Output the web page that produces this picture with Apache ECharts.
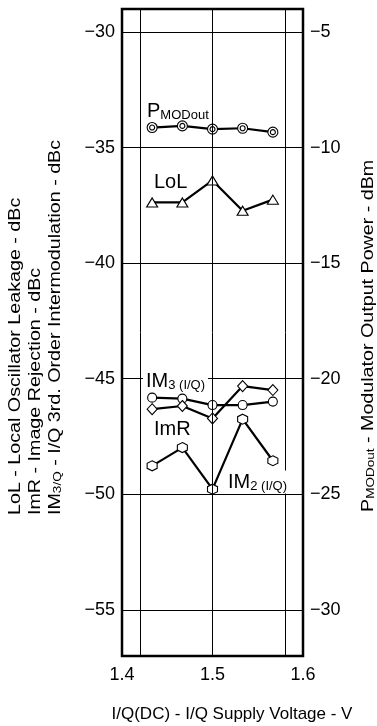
<!DOCTYPE html>
<html>
<head>
<meta charset="utf-8">
<script src="https://cdn.jsdelivr.net/npm/echarts@6/dist/echarts.min.js"></script>
<style>
  html, body { margin: 0; padding: 0; background: #fff; }
  #chart { width: 377px; height: 726px; }
</style>
</head>
<body>
<div id="chart"></div>
<script>
// Supply voltage sweep (V)
const voltage = [1.4333, 1.4667, 1.5, 1.5333, 1.5667];
// Modulator output power (dBm, right axis)
const pmodOut = [-9.13, -9.06, -9.2, -9.16, -9.33];
// Local oscillator leakage (dBc)
const lol = [-37.37, -37.37, -36.42, -37.73, -37.25];
// 3rd order I/Q intermodulation (dBc)
const im3 = [-45.82, -45.86, -46.14, -46.14, -45.99];
// Image rejection (dBc)
const imr = [-46.32, -46.18, -46.72, -45.32, -45.49];
// 2nd order I/Q intermodulation (dBc)
const im2 = [-48.77, -47.98, -49.78, -46.75, -48.55];

// Axis ticks and grid positions
const xTicks = [1.4, 1.5, 1.6];
const leftTicks = [-55, -50, -45, -40, -35, -30];
const rightTicks = [-30, -25, -20, -15, -10, -5];
const vGrid = [1.4167, 1.5, 1.5833];

const FONT = '"Liberation Sans", Arial, Helvetica, sans-serif';
const pairs = arr => voltage.map((v, i) => [v, arr[i]]);

const hexagon = 'path://M5,0 L9.33,2.5 L9.33,7.5 L5,10 L0.67,7.5 L0.67,2.5 Z';
const ring = 'path://M0,6a6,6 0 1,0 12,0a6,6 0 1,0 -12,0z M3,6a3,3 0 1,0 6,0a3,3 0 1,0 -6,0z';

function dataSeries(name, arr, symbol, size, yAxisIndex) {
  return {
    name, type: 'line', data: pairs(arr), yAxisIndex: yAxisIndex || 0,
    symbol, symbolSize: size, showAllSymbol: true, z: 3,
    lineStyle: { color: '#000', width: 2.2 },
    itemStyle: { color: '#fff', borderColor: '#000', borderWidth: 1.1 },
    emphasis: { disabled: true }
  };
}

const chart = echarts.init(document.getElementById('chart'), null, { renderer: 'canvas' });

const gridLines = vGrid.map(v => ({ xAxis: v })).concat(leftTicks.map(v => ({ yAxis: v })));

// Subscripted label styles
const bigSub = {
  a: { fontFamily: FONT, fontSize: 20, verticalAlign: 'bottom', lineHeight: 21 },
  b: { fontFamily: FONT, fontSize: 13, verticalAlign: 'bottom', lineHeight: 15 }
};
const titleSub = {
  a: { fontFamily: FONT, fontSize: 16, verticalAlign: 'bottom', lineHeight: 17 },
  b: { fontFamily: FONT, fontSize: 11, verticalAlign: 'bottom', lineHeight: 13 }
};
const TITLE_STRETCH = 1.23;

chart.setOption({
  animation: false,
  backgroundColor: '#fff',
  grid: {
    left: 122, right: 74, top: 9, bottom: 70,
    show: true, borderColor: '#000', borderWidth: 2.5, backgroundColor: 'transparent'
  },
  xAxis: {
    type: 'value', min: 1.4, max: 1.6, interval: 0.1,
    axisLine: { show: false }, axisTick: { show: false }, splitLine: { show: false },
    axisLabel: {
      customValues: xTicks, margin: 10,
      formatter: v => v.toFixed(1),
      color: '#000', fontFamily: FONT, fontSize: 18
    }
  },
  yAxis: [
    {
      type: 'value', min: -57, max: -29, position: 'left',
      axisLine: { show: false }, axisTick: { show: false }, splitLine: { show: false },
      axisLabel: {
        customValues: leftTicks, margin: 7,
        formatter: v => String(v).replace('-', '\u2212'),
        color: '#000', fontFamily: FONT, fontSize: 18
      }
    },
    {
      type: 'value', min: -32, max: -4, position: 'right',
      axisLine: { show: false }, axisTick: { show: false }, splitLine: { show: false },
      axisLabel: {
        customValues: rightTicks, margin: 7,
        formatter: v => String(v).replace('-', '\u2212'),
        color: '#000', fontFamily: FONT, fontSize: 18
      }
    }
  ],
  series: [
    {
      type: 'line', data: [], z: 1, silent: true,
      markLine: {
        silent: true, symbol: ['none', 'none'], animation: false,
        label: { show: false },
        lineStyle: { color: '#000', width: 1, type: 'solid' },
        emphasis: { disabled: true },
        data: gridLines
      }
    },
    dataSeries('PMODout', pmodOut, ring, 10, 1),
    dataSeries('LoL', lol, 'triangle', [11, 9]),
    dataSeries('IM3', im3, 'circle', 9),
    dataSeries('ImR', imr, 'diamond', [10, 11]),
    dataSeries('IM2', im2, hexagon, 10)
  ],
  graphic: [
    // Series labels inside the plot
    {
      type: 'text', x: 147, y: 111, z: 10,
      style: { text: '{a|P}{b|MODout}', textVerticalAlign: 'middle', rich: bigSub }
    },
    {
      type: 'text', x: 154, y: 182, z: 10,
      style: { text: 'LoL', font: '20px ' + FONT, fill: '#000', textVerticalAlign: 'middle' }
    },
    {
      type: 'text', x: 143, y: 381, z: 10,
      style: {
        text: '{a|IM}{b|3 (I/Q)}', textVerticalAlign: 'middle',
        backgroundColor: '#fff', padding: [0, 3, 0, 3], rich: bigSub
      }
    },
    {
      type: 'text', x: 154, y: 429, z: 10,
      style: { text: 'ImR', font: '20px ' + FONT, fill: '#000', textVerticalAlign: 'middle' }
    },
    {
      type: 'text', x: 226, y: 482, z: 10,
      style: {
        text: '{a|IM}{b|2 (I/Q)}', textVerticalAlign: 'middle',
        backgroundColor: '#fff', padding: [1, 3, 1, 2], rich: bigSub
      }
    },
    // Left axis title, three rotated lines
    {
      type: 'text', x: 16, y: 515, rotation: Math.PI / 2, scaleX: TITLE_STRETCH,
      style: { text: 'LoL - Local Oscillator Leakage - dBc', font: '16px ' + FONT, fill: '#000', textAlign: 'left', textVerticalAlign: 'middle' }
    },
    {
      type: 'text', x: 36, y: 515, rotation: Math.PI / 2, scaleX: TITLE_STRETCH,
      style: { text: 'ImR - Image Rejection - dBc', font: '16px ' + FONT, fill: '#000', textAlign: 'left', textVerticalAlign: 'middle' }
    },
    {
      type: 'text', x: 55, y: 515, rotation: Math.PI / 2, scaleX: TITLE_STRETCH,
      style: {
        text: '{a|IM}{b|3/Q}{a| - I/Q 3rd. Order Intermodulation - dBc}', textAlign: 'left', textVerticalAlign: 'middle',
        rich: titleSub
      }
    },
    // Right axis title
    {
      type: 'text', x: 368, y: 512, rotation: Math.PI / 2, scaleX: TITLE_STRETCH,
      style: {
        text: '{a|P}{b|MODout}{a| - Modulator Output Power - dBm}', textAlign: 'left', textVerticalAlign: 'middle',
        rich: titleSub
      }
    },
    // X axis title
    {
      type: 'text', x: 232, y: 714,
      style: { text: 'I/Q(DC) - I/Q Supply Voltage - V', font: '17px ' + FONT, fill: '#000', textAlign: 'center', textVerticalAlign: 'middle' }
    }
  ]
});
</script>
</body>
</html>
